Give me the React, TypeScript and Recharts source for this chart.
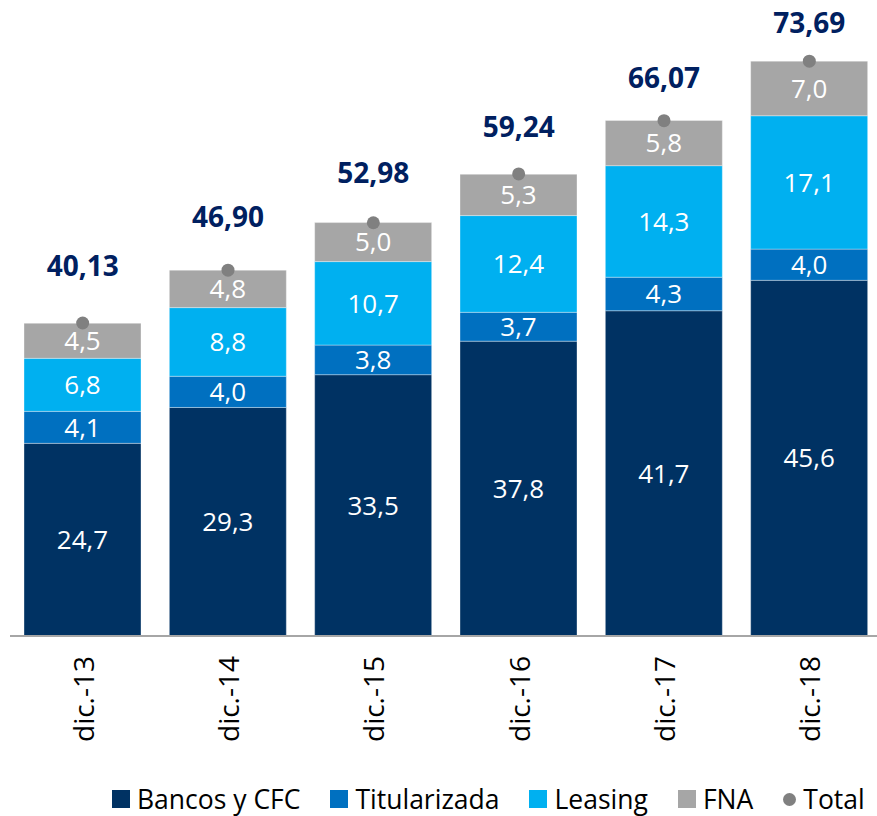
import React from 'react';
import { ComposedChart, Bar, Line, XAxis, YAxis, Legend, LabelList } from 'recharts';

// Values (billones de pesos)
const periods = ['dic.-13', 'dic.-14', 'dic.-15', 'dic.-16', 'dic.-17', 'dic.-18'];
const bancos = [24.7, 29.3, 33.5, 37.8, 41.7, 45.6];
const titularizada = [4.1, 4.0, 3.8, 3.7, 4.3, 4.0];
const leasing = [6.8, 8.8, 10.7, 12.4, 14.3, 17.1];
const fna = [4.5, 4.8, 5.0, 5.3, 5.8, 7.0];
const totals = [40.13, 46.9, 52.98, 59.24, 66.07, 73.69];

const colors = {
  bancos: '#003263',
  titularizada: '#0070C0',
  leasing: '#00B0F0',
  fna: '#A6A6A6',
  total: '#808080',
  totalText: '#002060',
  axis: '#A6A6A6',
};

const font = '"Open Sans", "Noto Sans", sans-serif';

const data = periods.map((p, i) => ({
  name: p,
  bancos: bancos[i],
  titularizada: titularizada[i],
  leasing: leasing[i],
  fna: fna[i],
  total: totals[i],
}));

const fmt1 = (v: any) => Number(v).toFixed(1).replace('.', ',');
const fmt2 = (v: number) => v.toFixed(2).replace('.', ',');

const RotatedTick = ({ x, y, payload }: any) => (
  <text
    transform={`translate(${x},${y + 12}) rotate(-90)`}
    textAnchor="end"
    dominantBaseline="central"
    fontSize={28}
    fill="#000000"
    fontFamily={font}
  >
    {payload.value}
  </text>
);

// total label sits a bit further above the lower dots, like the original
const TotalLabel = ({ x, y, value }: any) => {
  const gap = 34 + 0.0725 * y;
  return (
    <text
      x={x}
      y={y - gap + 10}
      textAnchor="middle"
      fontSize={28}
      fontWeight={700}
      fill={colors.totalText}
      fontFamily={font}
    >
      {fmt2(value)}
    </text>
  );
};

const legendItems = [
  { label: 'Bancos y CFC', color: colors.bancos, shape: 'square' },
  { label: 'Titularizada', color: colors.titularizada, shape: 'square' },
  { label: 'Leasing', color: colors.leasing, shape: 'square' },
  { label: 'FNA', color: colors.fna, shape: 'square' },
  { label: 'Total', color: colors.total, shape: 'circle' },
];

const CustomLegend = () => (
  <div
    style={{
      display: 'flex',
      alignItems: 'center',
      height: 40,
      width: 877,
      boxSizing: 'border-box',
      paddingLeft: 112,
      position: 'relative',
      top: 3,
      whiteSpace: 'nowrap',
      fontFamily: font,
      fontSize: 26.5,
      color: '#000',
    }}
  >
    {legendItems.map((it) => (
      <div key={it.label} style={{ display: 'flex', alignItems: 'center', flexShrink: 0, marginRight: 30 }}>
        <span
          style={{
            display: 'inline-block',
            flexShrink: 0,
            width: it.shape === 'circle' ? 13 : 18,
            height: it.shape === 'circle' ? 13 : 18,
            borderRadius: it.shape === 'circle' ? '50%' : 0,
            background: it.color,
            marginRight: 7,
          }}
        />
        <span>{it.label}</span>
      </div>
    ))}
  </div>
);

const segLabel = { fill: '#FFFFFF', fontSize: 26, fontFamily: font };
const segStroke = { stroke: '#FFFFFF', strokeOpacity: 0.35, strokeWidth: 1 };

export default function App() {
  return (
    <div style={{ position: 'absolute', left: 0, top: 0, width: 877, height: 816, overflow: 'hidden', background: '#fff' }}>
      <ComposedChart
        width={882}
        height={816}
        data={data}
        margin={{ top: 12, right: 0, left: 10, bottom: 0 }}
        style={{ fontFamily: font }}
      >
        <XAxis
          dataKey="name"
          height={140}
          tickLine={false}
          axisLine={{ stroke: colors.axis, strokeWidth: 2 }}
          tick={<RotatedTick />}
          interval={0}
        />
        <YAxis hide domain={[0, 80]} />
        <Legend
          verticalAlign="bottom"
          wrapperStyle={{ left: 0, width: 877 }}
          content={<CustomLegend />}
        />
        <Bar dataKey="bancos" name="Bancos y CFC" stackId="a" fill={colors.bancos} barSize={117} {...segStroke} isAnimationActive={false}>
          <LabelList dataKey="bancos" position="center" formatter={fmt1} style={segLabel} />
        </Bar>
        <Bar dataKey="titularizada" name="Titularizada" stackId="a" fill={colors.titularizada} barSize={117} {...segStroke} isAnimationActive={false}>
          <LabelList dataKey="titularizada" position="center" formatter={fmt1} style={segLabel} />
        </Bar>
        <Bar dataKey="leasing" name="Leasing" stackId="a" fill={colors.leasing} barSize={117} {...segStroke} isAnimationActive={false}>
          <LabelList dataKey="leasing" position="center" formatter={fmt1} style={segLabel} />
        </Bar>
        <Bar dataKey="fna" name="FNA" stackId="a" fill={colors.fna} barSize={117} {...segStroke} isAnimationActive={false}>
          <LabelList dataKey="fna" position="center" formatter={fmt1} style={segLabel} />
        </Bar>
        <Line
          dataKey="total"
          name="Total"
          stroke="none"
          legendType="circle"
          dot={{ r: 6.5, fill: colors.total, stroke: 'none' }}
          activeDot={false}
          isAnimationActive={false}
        >
          <LabelList dataKey="total" content={<TotalLabel />} />
        </Line>
      </ComposedChart>
    </div>
  );
}
